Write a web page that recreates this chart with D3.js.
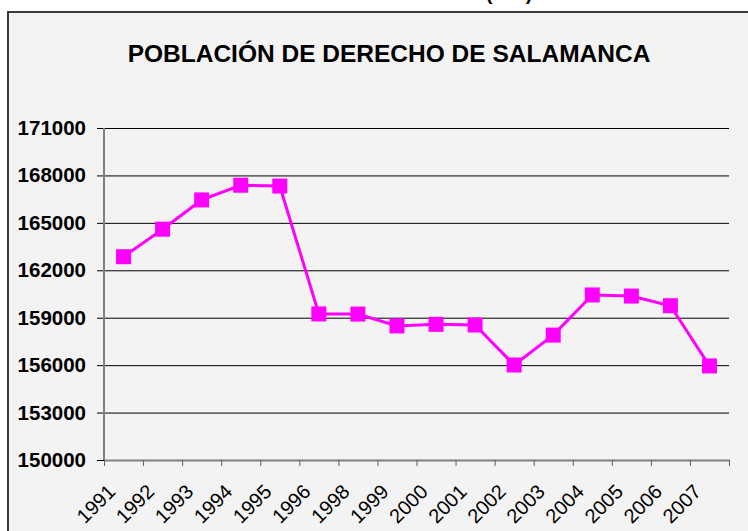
<!DOCTYPE html>
<html>
<head>
<meta charset="utf-8">
<script src="https://cdn.jsdelivr.net/npm/d3@7"></script>
<style>
  body { margin: 0; background: #fff; }
  svg { display: block; font-family: "Liberation Sans", Arial, sans-serif; }
</style>
</head>
<body>
<div id="chart"></div>
<script>
// data
const years = ["1991", "1992", "1993", "1994", "1995", "1996", "1998", "1999",
  "2000", "2001", "2002", "2003", "2004", "2005", "2006", "2007"];
const population = [162860, 164600, 166450, 167380, 167330, 159240, 159230, 158480,
  158580, 158540, 156010, 157900, 160440, 160370, 159760, 155950];
const yTicks = [150000, 153000, 156000, 159000, 162000, 165000, 168000, 171000];
const title = "POBLACIÓN DE DERECHO DE SALAMANCA";

const width = 748, height = 531;
const plot = { left: 104, right: 729, top: 128, bottom: 460 };

const svg = d3.select("#chart").append("svg")
  .attr("width", width)
  .attr("height", height);

// caption above the chart box, cut by the top edge like in the source
svg.append("text")
  .attr("x", 509).attr("y", 0)
  .attr("text-anchor", "middle")
  .attr("font-size", 20).attr("font-weight", "bold")
  .text("(INE)");

// chart box
svg.append("rect")
  .attr("x", 8).attr("y", 12)
  .attr("width", 800).attr("height", 600)
  .attr("fill", "#f3f3f3")
  .attr("stroke", "#3a3a3a")
  .attr("stroke-width", 2);

svg.append("text")
  .attr("x", 389).attr("y", 62)
  .attr("text-anchor", "middle")
  .attr("font-size", 24.5).attr("font-weight", "bold")
  .text(title);

const x = d3.scaleBand().domain(years).range([plot.left, plot.right]);
const y = d3.scaleLinear().domain([150000, 171000]).range([plot.bottom, plot.top]);

// gridlines + left ticks
const grid = svg.append("g")
  .attr("transform", `translate(${plot.left},0)`)
  .call(d3.axisLeft(y).tickValues(yTicks).tickSize(7).tickSizeOuter(0).tickPadding(11)
    .tickFormat(d3.format("d")));
grid.select(".domain").remove();
grid.selectAll(".tick line").clone()
  .attr("x2", plot.right - plot.left);
grid.selectAll(".tick line").attr("stroke", "#000");
grid.selectAll(".tick text")
  .attr("font-size", 20.5).attr("font-weight", "bold")
  .attr("font-family", "Liberation Sans, Arial, sans-serif")
  .attr("fill", "#000");

// y axis line
svg.append("line")
  .attr("x1", plot.left).attr("x2", plot.left)
  .attr("y1", plot.top).attr("y2", plot.bottom)
  .attr("stroke", "#808080").attr("stroke-width", 2);

// x axis: ticks on category boundaries
const edge = d3.scaleLinear().domain([0, years.length]).range([plot.left, plot.right]);
const xAxis = svg.append("g")
  .attr("transform", `translate(0,${plot.bottom})`)
  .call(d3.axisBottom(edge).tickValues(d3.range(years.length + 1)).tickSize(6)
    .tickSizeOuter(0).tickFormat(""));
xAxis.select(".domain").attr("stroke", "#808080").attr("stroke-width", 2);
xAxis.selectAll(".tick line").attr("stroke", "#606060");

// x labels rotated
const xLabels = svg.append("g")
  .attr("transform", `translate(0,${plot.bottom})`)
  .call(d3.axisBottom(x).tickSize(0).tickPadding(0));
xLabels.select(".domain").remove();
xLabels.selectAll(".tick text")
  .attr("font-size", 20)
  .attr("font-family", "Liberation Sans, Arial, sans-serif")
  .attr("fill", "#000")
  .attr("text-anchor", "end")
  .attr("dy", null)
  .attr("transform", "translate(-7,33) rotate(-45)");

// line
const line = d3.line()
  .x((d, i) => x(years[i]) + x.bandwidth() / 2)
  .y(d => y(d));

svg.append("path")
  .datum(population)
  .attr("d", line)
  .attr("fill", "none")
  .attr("stroke", "#ff00ff")
  .attr("stroke-width", 3);

const size = 15;
svg.append("g").selectAll("rect")
  .data(population)
  .join("rect")
  .attr("x", (d, i) => x(years[i]) + x.bandwidth() / 2 - size / 2)
  .attr("y", d => y(d) - size / 2)
  .attr("width", size).attr("height", size)
  .attr("fill", "#ff00ff");
</script>
</body>
</html>
